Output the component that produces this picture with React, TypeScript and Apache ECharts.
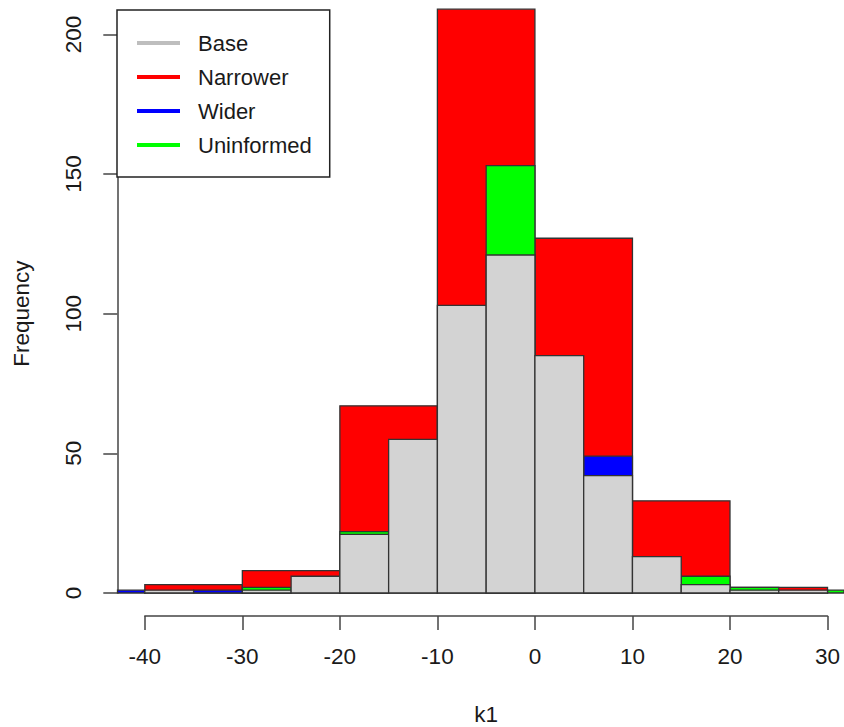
import React, { useEffect, useRef } from "react";
import * as echarts from "echarts";

// Histogram bin edges (left edges) and counts
const fineEdges = [-45, -40, -35, -30, -25, -20, -15, -10, -5, 0, 5, 10, 15, 20, 25, 30]; // width 5
const coarseEdges = [-50, -40, -30, -20, -10, 0, 10, 20, 30]; // width 10

const baseCounts = [0, 1, 0, 1, 6, 21, 55, 103, 121, 85, 42, 13, 3, 1, 1, 0];
const narrowerCounts = [0, 3, 8, 67, 209, 127, 33, 2, 0];
const widerCounts = [1, 0, 1, 0, 0, 0, 0, 0, 0, 0, 49, 0, 0, 0, 0, 0];
const uninformedCounts = [0, 0, 0, 2, 0, 22, 0, 0, 153, 0, 0, 0, 6, 2, 0, 1];

const xTicks = { min: -40, max: 30, step: 10 };
const yTicks = { min: 0, max: 200, step: 50 };

const FONT = "'Liberation Sans', Arial, Helvetica, sans-serif";

function toBins(edges: number[], counts: number[], width: number) {
  return edges.map((e, i) => [e, e + width, counts[i]]);
}

function histSeries(name: string, data: number[][], color: string) {
  return {
    name,
    type: "custom",
    xAxisIndex: 0,
    yAxisIndex: 0,
    itemStyle: { color },
    encode: { x: [0, 1], y: 2 },
    data,
    renderItem: (params: any, api: any) => {
      const x0 = api.value(0);
      const x1 = api.value(1);
      const h = api.value(2);
      if (!h) return null;
      const p0 = api.coord([x0, 0]);
      const p1 = api.coord([x1, h]);
      const rect = { x: p0[0], y: p1[1], width: p1[0] - p0[0], height: p0[1] - p1[1] };
      const cs = params.coordSys;
      const clipped = echarts.graphic.clipRectByRect(rect, {
        x: cs.x,
        y: cs.y,
        width: cs.width,
        height: cs.height,
      });
      if (!clipped) return null;
      return {
        type: "rect",
        shape: clipped,
        style: { fill: color, stroke: "#333", lineWidth: 1.3 },
      };
    },
  };
}

export default function App() {
  const ref = useRef<HTMLDivElement>(null);
  useEffect(() => {
    if (!ref.current) return;
    const chart = echarts.init(ref.current, null, { renderer: "svg" });
    const axisLineStyle = { color: "#444", width: 1.5 };
    const labelStyle = { fontSize: 22.5, color: "#1a1a1a", fontFamily: FONT };
    chart.setOption({
      animation: false,
      backgroundColor: "#fff",
      textStyle: { fontFamily: FONT },
      grid: [
        { left: 117.5, top: 0, width: 726.5, height: 593, outerBoundsMode: "none" },
        { left: 144.8, top: 600, width: 682.7, height: 16, outerBoundsMode: "none" },
        { left: 117.3, top: 34.4, width: 10, height: 558.6, outerBoundsMode: "none" },
      ],
      xAxis: [
        { gridIndex: 0, type: "value", min: -42.8, max: 31.69, show: false },
        {
          gridIndex: 1,
          type: "value",
          min: xTicks.min,
          max: xTicks.max,
          interval: xTicks.step,
          position: "bottom",
          name: "k1",
          nameLocation: "middle",
          nameGap: 87,
          nameTextStyle: { ...labelStyle },
          axisLine: { show: true, lineStyle: axisLineStyle },
          axisTick: { show: true, length: 14, lineStyle: axisLineStyle },
          axisLabel: { ...labelStyle, margin: 29 },
          splitLine: { show: false },
        },
        { gridIndex: 2, type: "value", min: 0, max: 1, show: false },
      ],
      yAxis: [
        { gridIndex: 0, type: "value", min: 0, max: 212.3, show: false },
        { gridIndex: 1, type: "value", min: 0, max: 1, show: false },
        {
          gridIndex: 2,
          type: "value",
          min: yTicks.min,
          max: yTicks.max,
          interval: yTicks.step,
          position: "left",
          name: "Frequency",
          nameLocation: "middle",
          nameGap: 84,
          nameTextStyle: { ...labelStyle },
          axisLine: { show: true, lineStyle: axisLineStyle },
          axisTick: { show: true, length: 14, lineStyle: axisLineStyle },
          axisLabel: { ...labelStyle, rotate: 90, margin: 32 },
          splitLine: { show: false },
        },
      ],
      legend: {
        show: true,
        orient: "vertical",
        left: 117,
        top: 10,
        selectedMode: false,
        data: [
          { name: "Base", itemStyle: { color: "#bebebe" } },
          { name: "Narrower" },
          { name: "Wider" },
          { name: "Uninformed" },
        ],
        icon: "rect",
        itemWidth: 43,
        itemHeight: 4,
        itemGap: 12,
        padding: [22, 18, 21, 20],
        backgroundColor: "#fff",
        borderColor: "#222",
        borderWidth: 1.5,
        borderRadius: 0,
        textStyle: { ...labelStyle, fontSize: 22, lineHeight: 22, padding: [0, 0, 0, 13] },
      },
      series: [
        histSeries("Narrower", toBins(coarseEdges, narrowerCounts, 10), "#ff0000"),
        histSeries("Uninformed", toBins(fineEdges, uninformedCounts, 5), "#00ff00"),
        histSeries("Wider", toBins(fineEdges, widerCounts, 5), "#0000ff"),
        histSeries("Base", toBins(fineEdges, baseCounts, 5), "#d3d3d3"),
      ],
    });
    return () => chart.dispose();
  }, []);
  return (
    <div
      ref={ref}
      style={{ position: "absolute", left: 0, top: 0, width: 844, height: 727 }}
    />
  );
}
